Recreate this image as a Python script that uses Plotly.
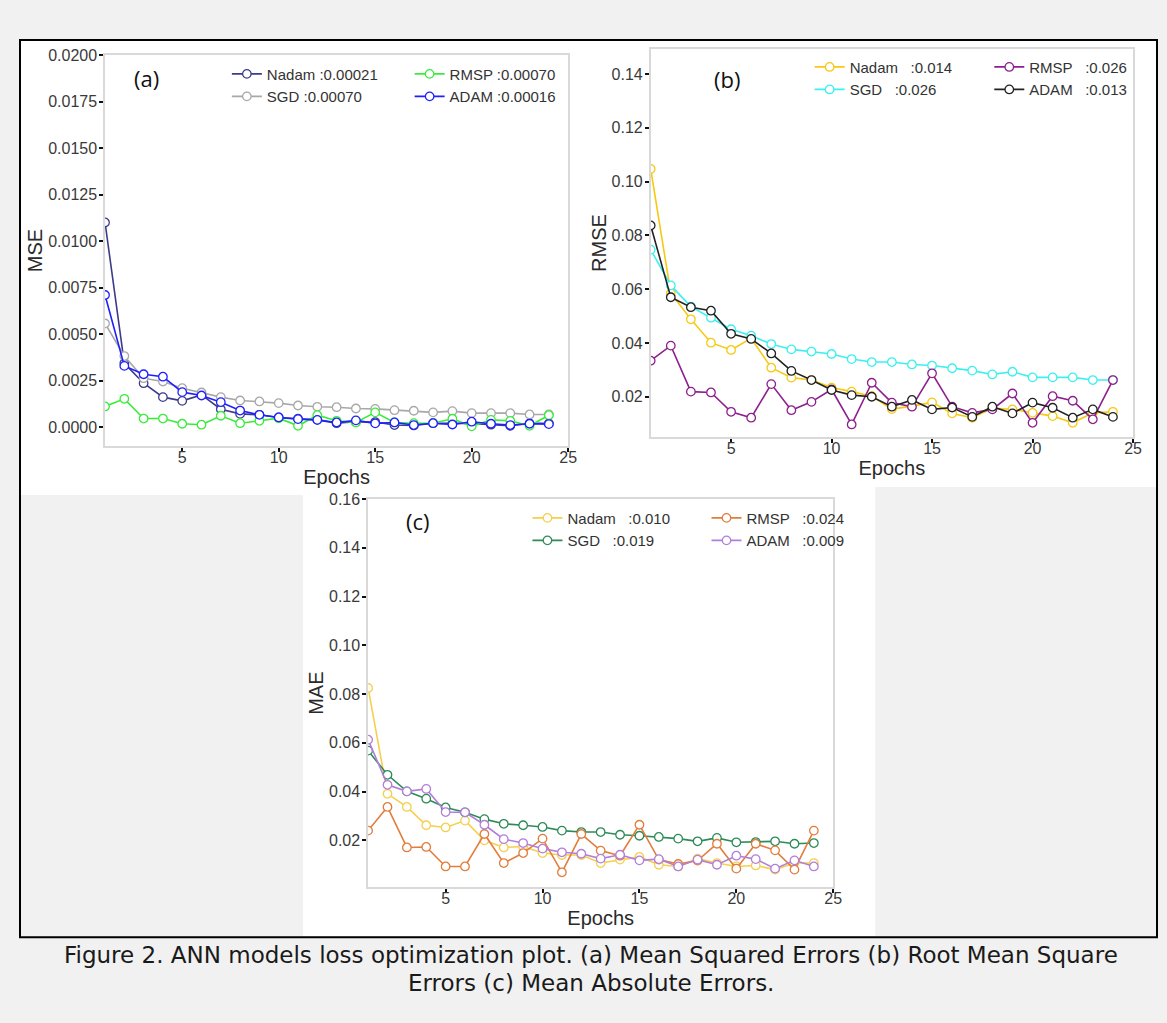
import plotly.graph_objects as go

W, H = 1167, 1023

epochs = list(range(1, 25))

# ---- (a) MSE ----
mse_nadam = [0.0110, 0.00343, 0.00236, 0.00161, 0.00141, 0.00173, 0.00096, 0.00071, 0.00066, 0.00052,
             0.00045, 0.00039, 0.00021, 0.00029, 0.00027, 0.00011, 0.00009, 0.00021, 0.00020, 0.00020,
             0.00013, 0.00007, 0.00020, 0.00020]
mse_sgd = [0.00557, 0.00382, 0.00263, 0.00245, 0.00209, 0.00186, 0.00161, 0.00143, 0.00138, 0.00129,
           0.00116, 0.00109, 0.00107, 0.00100, 0.00098, 0.00091, 0.00088, 0.00079, 0.00086, 0.00075,
           0.00075, 0.00075, 0.00068, 0.00068]
mse_rmsp = [0.00111, 0.00152, 0.00046, 0.00046, 0.00018, 0.00013, 0.00061, 0.00021, 0.00034, 0.00048,
            0.00007, 0.00064, 0.00034, 0.00025, 0.00079, 0.00025, 0.00021, 0.00021, 0.00045, 0.00004,
            0.00039, 0.00034, 0.00007, 0.00064]
mse_adam = [0.0071, 0.00329, 0.00284, 0.00271, 0.00188, 0.00170, 0.00134, 0.00089, 0.00066, 0.00052,
            0.00043, 0.00039, 0.00025, 0.00036, 0.00020, 0.00025, 0.00011, 0.00021, 0.00014, 0.00029,
            0.00018, 0.00011, 0.00018, 0.00016]

# ---- (b) RMSE ----
rmse_nadam = [0.1047, 0.0585, 0.0488, 0.0401, 0.0374, 0.0417, 0.0308, 0.0271, 0.0262, 0.0234,
              0.0219, 0.0202, 0.0154, 0.0165, 0.0179, 0.0138, 0.0122, 0.0157, 0.0153, 0.0140,
              0.0128, 0.0103, 0.0140, 0.0144]
rmse_sgd = [0.0747, 0.0614, 0.0535, 0.0494, 0.0451, 0.0427, 0.0396, 0.0376, 0.0368, 0.0359,
            0.0340, 0.0329, 0.0329, 0.0320, 0.0316, 0.0306, 0.0297, 0.0283, 0.0293, 0.0272,
            0.0272, 0.0272, 0.0262, 0.0262]
rmse_rmsp = [0.0334, 0.0390, 0.0219, 0.0216, 0.0144, 0.0122, 0.0247, 0.0150, 0.0181, 0.0227,
             0.0097, 0.0252, 0.0178, 0.0163, 0.0287, 0.0163, 0.0140, 0.0153, 0.0212, 0.0103,
             0.0202, 0.0185, 0.0116, 0.0262]
rmse_adam = [0.0837, 0.0570, 0.0533, 0.0520, 0.0434, 0.0415, 0.0361, 0.0296, 0.0262, 0.0225,
             0.0206, 0.0200, 0.0163, 0.0188, 0.0153, 0.0160, 0.0125, 0.0163, 0.0138, 0.0178,
             0.0159, 0.0122, 0.0153, 0.0125]

# ---- (c) MAE ----
mae_nadam = [0.0825, 0.0391, 0.0337, 0.0262, 0.0253, 0.0281, 0.0200, 0.0171, 0.0175, 0.0148,
             0.0140, 0.0140, 0.0107, 0.0121, 0.0132, 0.0100, 0.0093, 0.0125, 0.0107, 0.0093,
             0.0097, 0.0080, 0.0107, 0.0107]
mae_sgd = [0.0568, 0.0469, 0.0401, 0.0371, 0.0335, 0.0315, 0.0287, 0.0268, 0.0262, 0.0255,
           0.0240, 0.0234, 0.0234, 0.0223, 0.0219, 0.0214, 0.0207, 0.0196, 0.0210, 0.0192,
           0.0193, 0.0196, 0.0186, 0.0189]
mae_rmsp = [0.0240, 0.0337, 0.0171, 0.0173, 0.0093, 0.0093, 0.0226, 0.0107, 0.0148, 0.0207,
            0.0069, 0.0226, 0.0158, 0.0137, 0.0264, 0.0121, 0.0103, 0.0117, 0.0186, 0.0084,
            0.0186, 0.0159, 0.0080, 0.0240]
mae_adam = [0.0613, 0.0428, 0.0401, 0.0411, 0.0316, 0.0315, 0.0264, 0.0205, 0.0189, 0.0166,
            0.0151, 0.0145, 0.0125, 0.0141, 0.0118, 0.0123, 0.0093, 0.0121, 0.0100, 0.0137,
            0.0123, 0.0084, 0.0118, 0.0093]

labels_a = ["Nadam :0.00021", "SGD :0.00070", "RMSP :0.00070", "ADAM :0.00016"]
labels_b = ["Nadam\u00a0\u00a0 :0.014", "SGD\u00a0\u00a0 :0.026", "RMSP\u00a0\u00a0 :0.026", "ADAM\u00a0\u00a0 :0.013"]
labels_c = ["Nadam\u00a0\u00a0 :0.010", "SGD\u00a0\u00a0 :0.019", "RMSP\u00a0\u00a0 :0.024", "ADAM\u00a0\u00a0 :0.009"]

colors_a = ["#3b3b8c", "#a8a8a8", "#3aec3a", "#1f1fff"]
colors_b = ["#f7c912", "#3cf0f0", "#8e1f8e", "#222222"]
colors_c = ["#f6cf4c", "#2e8b57", "#e27d3c", "#b27fdb"]

caption_1 = "Figure 2. ANN models loss optimization plot. (a) Mean Squared Errors (b) Root Mean Square"
caption_2 = "Errors (c) Mean Absolute Errors."

# small correction for how the page gets photographed
SC, DY = 0.992, 8.0


def px(x):
    return min(x / SC, W - 1) / W


def py(y):
    return 1 - ((y - DY) / SC) / H


fig = go.Figure()

panels = [
    ("x", "y", [mse_nadam, mse_sgd, mse_rmsp, mse_adam], labels_a, colors_a, ["legend", "legend2"]),
    ("x2", "y2", [rmse_nadam, rmse_sgd, rmse_rmsp, rmse_adam], labels_b, colors_b, ["legend3", "legend4"]),
    ("x3", "y3", [mae_nadam, mae_sgd, mae_rmsp, mae_adam], labels_c, colors_c, ["legend5", "legend6"]),
]

for xa, ya, series, labs, cols, legs in panels:
    for i, (vals, lab, col) in enumerate(zip(series, labs, cols)):
        fig.add_trace(go.Scatter(
            x=epochs, y=vals, name=lab, mode="lines+markers",
            xaxis=xa, yaxis=ya,
            line=dict(color=col, width=1.6),
            marker=dict(symbol="circle", size=8.5, color="white", line=dict(color=col, width=1.3)),
            legend=legs[0] if i < 2 else legs[1],
        ))

tickfont = dict(family="Liberation Sans, Arial, sans-serif", size=16, color="#3a3a3a")
titlefont = dict(family="Liberation Sans, Arial, sans-serif", size=20, color="#2a2a2a")
border = "#d9d9d9"


def xaxis(dom, anchor):
    return dict(domain=dom, anchor=anchor, range=[1, 25], tickvals=[5, 10, 15, 20, 25],
                showgrid=False, zeroline=False, showline=True, mirror=True, linecolor=border, linewidth=1.5,
                ticks="outside", ticklen=4, tickwidth=2, tickcolor="#111", tickfont=tickfont,
                ticklabelstandoff=-8,
                title=dict(text="Epochs", font=titlefont, standoff=3))


def yaxis(dom, anchor, rng, tv, fmt, title):
    return dict(domain=dom, anchor=anchor, range=rng, tickvals=tv, tickformat=fmt,
                showgrid=False, zeroline=False, showline=True, mirror=True, linecolor=border, linewidth=1.5,
                ticks="outside", ticklen=4, tickwidth=2, tickcolor="#111", tickfont=tickfont,
                ticklabelstandoff=-1,
                title=dict(text=title, font=titlefont, standoff=0))


legfont = dict(family="Liberation Sans, Arial, sans-serif", size=15, color="#333333")


def leg(x, y):
    return dict(x=min(x / SC, W) / W, y=1 - y / H, xanchor="left", yanchor="top", bgcolor="rgba(0,0,0,0)",
                font=legfont, itemwidth=30, tracegroupgap=0, traceorder="normal")


fig.update_layout(
    width=W, height=H,
    margin=dict(l=0, r=0, t=0, b=0),
    paper_bgcolor="#f1f1f1",
    plot_bgcolor="white",
    showlegend=True,
    xaxis=xaxis([px(105), px(568)], "y"),
    yaxis=yaxis([py(446), py(55)], "x", [-0.00102, 0.0200],
                [0, 0.0025, 0.005, 0.0075, 0.01, 0.0125, 0.015, 0.0175, 0.02], ".4f", "MSE"),
    xaxis2=xaxis([px(650.5), px(1132.7)], "y2"),
    yaxis2=yaxis([py(437), py(49)], "x2", [0.005, 0.1493],
                 [0.02, 0.04, 0.06, 0.08, 0.10, 0.12, 0.14], ".2f", "RMSE"),
    xaxis3=xaxis([px(368), px(833)], "y3"),
    yaxis3=yaxis([py(887), py(499)], "x3", [0.0008, 0.16],
                 [0.02, 0.04, 0.06, 0.08, 0.10, 0.12, 0.14, 0.16], ".2f", "MAE"),
    # legend positions given as page-layout pixels (top edge)
    legend=leg(226.8, 50),
    legend2=leg(409.5, 50),
    legend3=leg(809.4, 43),
    legend4=leg(989, 43),
    legend5=leg(527.3, 497.5),
    legend6=leg(706.3, 497.5),
)

shapes = [
    # white figure area inside the frame
    dict(type="rect", xref="paper", yref="paper", x0=px(21), x1=px(1158), y0=py(41), y1=py(936),
         fillcolor="white", line=dict(width=0), layer="below"),
    # grey blocks beside panel (c)
    dict(type="rect", xref="paper", yref="paper", x0=px(21), x1=px(303), y0=py(495), y1=py(936),
         fillcolor="#f1f1f1", line=dict(width=0), layer="below"),
    dict(type="rect", xref="paper", yref="paper", x0=px(875), x1=px(1158), y0=py(487), y1=py(936),
         fillcolor="#f1f1f1", line=dict(width=0), layer="below"),
    # black frame
    dict(type="rect", xref="paper", yref="paper", x0=px(20), x1=px(1159), y0=py(40), y1=py(937),
         fillcolor="rgba(0,0,0,0)", line=dict(color="black", width=2), layer="above"),
]
fig.update_layout(shapes=shapes)

capfont = dict(family="DejaVu Sans, sans-serif", size=23, color="#1a1a1a")
panelfont = dict(family="Open Sans, sans-serif", size=22, color="#111")


def ann(text, x, y, font):
    return dict(text=text, x=px(x), y=py(y), xref="paper", yref="paper", showarrow=False,
                xanchor="center", yanchor="middle", font=font)


annotations = [
    ann("(a)", 146, 78, panelfont),
    ann("(b)", 727, 79, panelfont),
    ann("(c)", 418, 521, panelfont),
    ann(caption_1, 591, 954.5, capfont),
    ann(caption_2, 591, 982.5, capfont),
]
fig.update_layout(annotations=annotations)

fig.write_html(
    "out.html",
    config={"displayModeBar": False},
    post_script=(
        "document.documentElement.style.margin='0';document.body.style.margin='0';"
        "document.body.style.padding='0';document.body.style.overflow='hidden';"
        "document.documentElement.style.overflow='hidden';"
        "var d=document.getElementById('{plot_id}');d.style.position='absolute';"
        "d.style.left='0px';d.style.top='0px';"
    ),
)
